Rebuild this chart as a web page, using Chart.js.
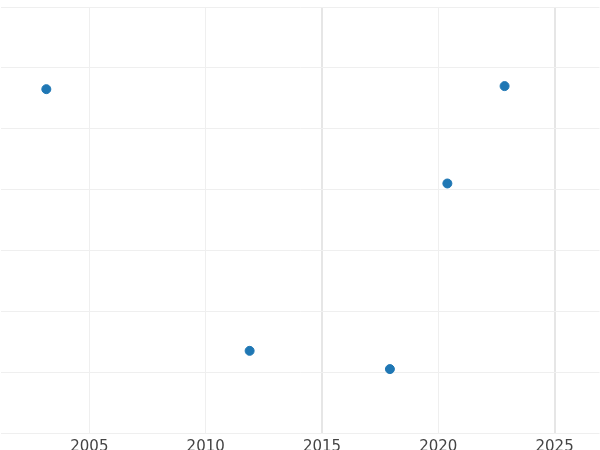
<!DOCTYPE html><html><head><script src="https://cdn.jsdelivr.net/npm/chart.js@4"></script>
<style>body{margin:0;overflow:hidden;width:600px;height:450px}#w{width:610px;height:461px;margin-left:-5px}</style></head><body><div id="w"><canvas id="c"></canvas></div>
<script>
const years=[2003.15,2011.89,2017.92,2020.39,2022.85];
const values=[4.65,0.35,0.05,3.1,4.7];
const xTicks=[2005,2010,2015,2020,2025];
new Chart(document.getElementById('c'),{type:'scatter',
data:{datasets:[{data:years.map((x,i)=>({x,y:values[i]})),backgroundColor:'#1f77b4',borderColor:'#1f77b4',pointRadius:4.5}]},
options:{responsive:true,maintainAspectRatio:false,animation:false,
layout:{padding:{top:7,left:0,right:0,bottom:0}},
plugins:{legend:{display:false},tooltip:{enabled:false}},
scales:{
x:{min:2001.18,max:2026.93,afterBuildTicks:a=>{a.ticks=xTicks.map(v=>({value:v}));},
 border:{display:false},
 grid:{drawTicks:false,color:c=>(c.tick&&(c.tick.value===2015||c.tick.value===2025))?'#e6e6e6':'#efefef',lineWidth:c=>(c.tick&&(c.tick.value===2015||c.tick.value===2025))?2:1},
 ticks:{padding:5,color:'#444',font:{family:'DejaVu Sans',size:15},callback:v=>String(v)}},
y:{min:-1,max:6,ticks:{display:false,stepSize:1},border:{display:false},grid:{drawTicks:false,color:'#efefef'}}
}}});
</script></body></html>
